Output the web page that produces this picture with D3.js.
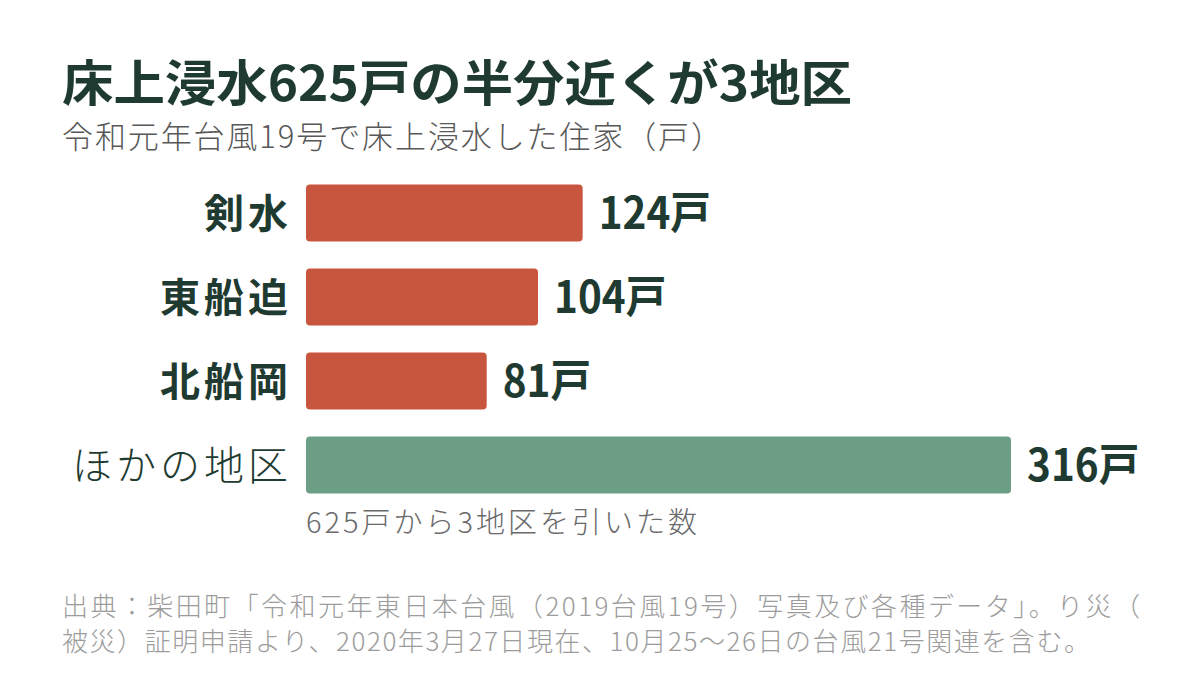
<!DOCTYPE html>
<html>
<head>
<meta charset="utf-8">
<script src="https://cdn.jsdelivr.net/npm/d3@7"></script>
<style>
  body { margin: 0; background: #fff; }
  svg { display: block; font-family: "Noto Sans CJK JP", "Noto Sans", sans-serif; }
</style>
</head>
<body>
<svg id="chart" width="1200" height="688"></svg>
<script>
const districts = ['剣水', '東船迫', '北船岡', 'ほかの地区'];
const households = [124, 104, 81, 316];
const groups = ['focus', 'focus', 'focus', 'other'];
const unit = '戸';

const title = '床上浸水625戸の半分近くが3地区';
const subtitle = '令和元年台風19号で床上浸水した住家（戸）';
const otherNote = '625戸から3地区を引いた数';
const source = [
    '出典：柴田町「令和元年東日本台風（2019台風19号）写真及び各種データ」。り災（',
    '被災）証明申請より、2020年3月27日現在、10月25～26日の台風21号関連を含む。'
];

const ink = '#1f3b31';
const color = d3.scaleOrdinal().domain(['focus', 'other']).range(['#c8553d', '#6c9e85']);

const svg = d3.select('#chart');

const rows = districts.map((d, i) => ({name: d, value: households[i], group: groups[i]}));

const x = d3.scaleLinear()
    .domain([0, d3.max(households)])
    .range([306, 1011]);

const y = d3.scaleBand()
    .domain(districts)
    .range([171, 507])
    .paddingInner(0.32)
    .paddingOuter(0.16);

// stretch a text to the width it takes in the print version
function fit(sel, len, adjust) {
    sel.attr('textLength', len).attr('lengthAdjust', adjust || 'spacing');
}

svg.append('text')
    .attr('x', 62).attr('y', 101)
    .attr('fill', ink)
    .attr('font-size', 49)
    .attr('font-weight', 700)
    .text(title)
    .call(fit, 790, 'spacingAndGlyphs');

svg.append('text')
    .attr('x', 62).attr('y', 148)
    .attr('fill', '#585858')
    .attr('font-size', 31)
    .attr('font-weight', 300)
    .text(subtitle)
    .call(fit, 660);

// bars
svg.append('g')
    .selectAll('rect')
    .data(rows)
    .join('rect')
    .attr('x', x(0))
    .attr('y', d => y(d.name))
    .attr('width', d => x(d.value) - x(0))
    .attr('height', y.bandwidth())
    .attr('rx', 4)
    .attr('fill', d => color(d.group));

// category labels
svg.append('g')
    .selectAll('text')
    .data(rows)
    .join('text')
    .attr('x', x(0) - 18)
    .attr('y', d => y(d.name) + y.bandwidth() / 2)
    .attr('dy', '0.37em')
    .attr('text-anchor', 'end')
    .attr('fill', ink)
    .attr('font-size', 40)
    .attr('font-weight', d => d.group === 'focus' ? 700 : 300)
    .text(d => d.name)
    .each(function(d) {
        const w = this.getComputedTextLength();
        const n = d.name.length;
        // wide set like the original
        d3.select(this).call(fit, d.group === 'focus' ? w + (n - 1) * 4 : w + (n - 1) * 4);
    });

// value labels
svg.append('g')
    .selectAll('text')
    .data(rows)
    .join('text')
    .attr('x', d => x(d.value) + 16)
    .attr('y', d => y(d.name) + y.bandwidth() / 2)
    .attr('dy', '0.37em')
    .attr('fill', ink)
    .attr('font-size', 44)
    .attr('font-weight', 700)
    .text(d => d.value + unit)
    .each(function() {
        d3.select(this).call(fit, this.getComputedTextLength() * 0.92, 'spacingAndGlyphs');
    });

svg.append('text')
    .attr('x', x(0)).attr('y', y('ほかの地区') + y.bandwidth() + 39)
    .attr('fill', '#6a6a6a')
    .attr('font-size', 29)
    .attr('font-weight', 300)
    .text(otherNote)
    .call(fit, 391);

const sourceWidths = [1078, 1028];
svg.append('g')
    .selectAll('text')
    .data(source)
    .join('text')
    .attr('x', 62)
    .attr('y', (d, i) => 616 + i * 35)
    .attr('fill', '#9c9c9c')
    .attr('font-size', 26)
    .attr('font-weight', 300)
    .text(d => d)
    .each(function(d, i) {
        d3.select(this).call(fit, sourceWidths[i]);
    });
</script>
</body>
</html>
